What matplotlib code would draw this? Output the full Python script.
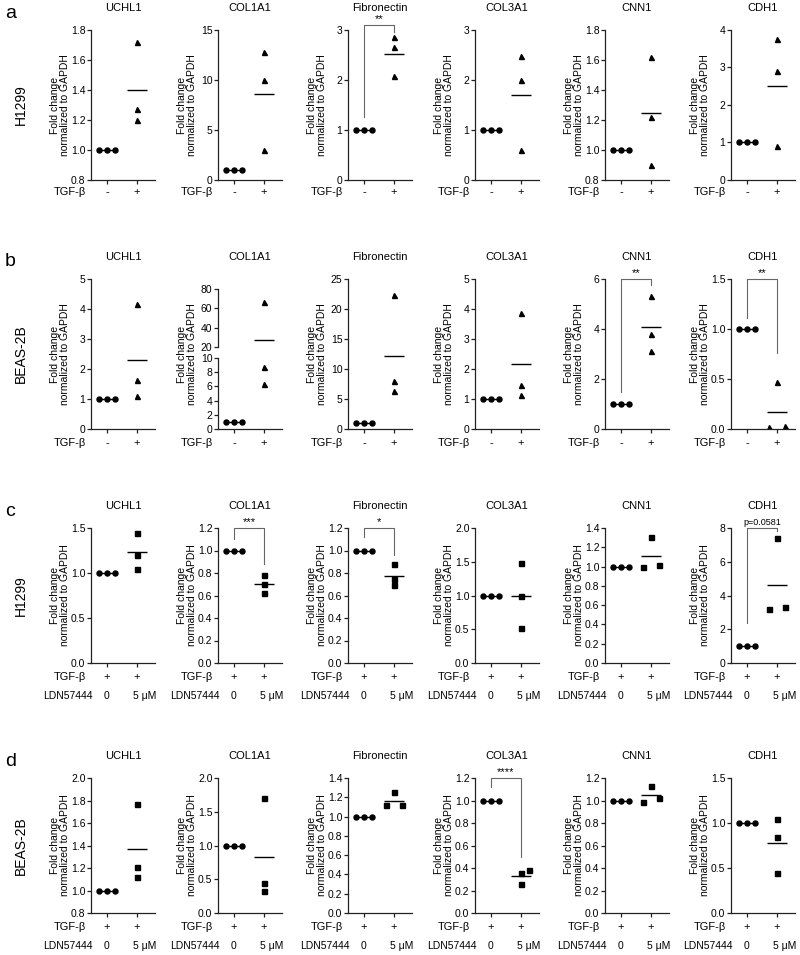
import numpy as np
import matplotlib
matplotlib.use("Agg")
import matplotlib.pyplot as plt

plt.rcParams['font.family'] = ['Liberation Sans', 'DejaVu Sans']

genes = ["UCHL1", "COL1A1", "Fibronectin", "COL3A1", "CNN1", "CDH1"]
ctrl = [1.0, 1.0, 1.0]

# row a: H1299, TGF-beta - / +
a_trt = [[1.72, 1.27, 1.20], [12.8, 10.0, 3.0], [2.85, 2.65, 2.08],
         [2.48, 2.00, 0.60], [1.62, 1.22, 0.90], [3.75, 2.90, 0.90]]
a_ylim = [(0.8, 1.8), (0, 15), (0, 3), (0, 3), (0.8, 1.8), (0, 4)]
a_ticks = [[0.8, 1.0, 1.2, 1.4, 1.6, 1.8], [0, 5, 10, 15], [0, 1, 2, 3],
           [0, 1, 2, 3], [0.8, 1.0, 1.2, 1.4, 1.6, 1.8], [0, 1, 2, 3, 4]]
a_dec = [1, 0, 0, 0, 1, 0]
a_jit = [[0, 0, 0]] * 6

# row b: BEAS-2B, TGF-beta - / +
b_trt = [[4.15, 1.62, 1.10], [67.0, 8.7, 6.4], [22.3, 8.0, 6.4],
         [3.85, 1.45, 1.15], [5.3, 3.8, 3.1], [0.47, 0.02, 0.03]]
b_ylim = [(0, 5), (0, 10), (0, 25), (0, 5), (0, 6), (0, 1.5)]
b_ticks = [[0, 1, 2, 3, 4, 5], [0, 2, 4, 6, 8, 10], [0, 5, 10, 15, 20, 25],
           [0, 1, 2, 3, 4, 5], [0, 2, 4, 6], [0.0, 0.5, 1.0, 1.5]]
b_dec = [0, 0, 0, 0, 0, 1]
b_jit = [[0, 0, 0]] * 5 + [[0, -1, 1]]
b_col1a1_upper_ylim = (20, 80)
b_col1a1_upper_ticks = [20, 40, 60, 80]

# row c: H1299, TGF-beta + with LDN57444 0 / 5 uM
c_trt = [[1.45, 1.20, 1.05], [0.78, 0.70, 0.62], [0.88, 0.75, 0.69],
         [1.48, 1.00, 0.52], [1.00, 1.31, 1.02], [3.20, 7.40, 3.30]]
c_ylim = [(0, 1.5), (0, 1.2), (0, 1.2), (0, 2.0), (0, 1.4), (0, 8)]
c_ticks = [[0, 0.5, 1.0, 1.5], [0, 0.2, 0.4, 0.6, 0.8, 1.0, 1.2],
           [0, 0.2, 0.4, 0.6, 0.8, 1.0, 1.2], [0, 0.5, 1.0, 1.5, 2.0],
           [0, 0.2, 0.4, 0.6, 0.8, 1.0, 1.2, 1.4], [0, 2, 4, 6, 8]]
c_dec = [1, 1, 1, 1, 1, 0]
c_jit = [[0, 0, 0]] * 4 + [[-1, 0, 1], [-1, 0, 1]]

# row d: BEAS-2B, TGF-beta + with LDN57444 0 / 5 uM
d_trt = [[1.77, 1.21, 1.12], [1.71, 0.45, 0.32], [1.12, 1.25, 1.12],
         [0.36, 0.38, 0.26], [0.99, 1.13, 1.02], [1.05, 0.85, 0.45]]
d_ylim = [(0.8, 2.0), (0, 2.0), (0, 1.4), (0, 1.2), (0, 1.2), (0, 1.5)]
d_ticks = [[0.8, 1.0, 1.2, 1.4, 1.6, 1.8, 2.0], [0, 0.5, 1.0, 1.5, 2.0],
           [0, 0.2, 0.4, 0.6, 0.8, 1.0, 1.2, 1.4], [0, 0.2, 0.4, 0.6, 0.8, 1.0, 1.2],
           [0, 0.2, 0.4, 0.6, 0.8, 1.0, 1.2], [0, 0.5, 1.0, 1.5]]
d_dec = [1, 1, 1, 1, 1, 1]
d_jit = [[0, 0, 0], [0, 0, 0], [-1, 0, 1], [0, 1, 0], [-1, 0, 1], [0, 0, 0]]

# significance: (row, col, label, left leg bottom, right leg bottom, top)
sig = [(0, 2, "**", 1.26, 2.95, 3.1),
       (1, 4, "**", 1.5, 5.75, 6.0),
       (1, 5, "**", 1.11, 0.76, 1.5),
       (2, 1, "***", 1.10, 0.88, 1.2),
       (2, 2, "*", 1.12, 0.96, 1.2),
       (2, 5, "p=0.0581", 2.4, 7.8, 8.0),
       (3, 3, "****", 1.12, 0.50, 1.2)]

cells = ["H1299", "BEAS-2B", "H1299", "BEAS-2B"]
letters = ["a", "b", "c", "d"]

W, H = 800, 955
fig = plt.figure(figsize=(W / 100, H / 100), dpi=100)
col_left = [91, 218, 348, 475, 605, 731]
ax_w = 64
row_top = [30, 279, 528, 778]
row_h = [150, 150, 135, 135]
XLIM = (-0.53, 1.6)
SP = 0.27
PX = 0.72  # points per pixel


def add_ax(x0, y0, w, h):
    return fig.add_axes([x0 / W, 1 - (y0 + h) / H, w / W, h / H])


def style(ax, ylim, ticks, dec, bottom=True):
    for s in ["top", "right"]:
        ax.spines[s].set_visible(False)
    for s in ["left", "bottom"]:
        ax.spines[s].set_linewidth(0.9)
        ax.spines[s].set_color("#222222")
    ax.set_xlim(XLIM)
    ax.set_ylim(ylim)
    ax.set_yticks(ticks)
    ax.set_yticklabels([f"{t:.{dec}f}" for t in ticks])
    ax.tick_params(axis="y", direction="out", length=3, width=0.9,
                   labelsize=7.5, pad=1, colors="#222222")
    ax.tick_params(axis="y", labelcolor="black")
    if bottom:
        ax.set_xticks([0, 1])
        ax.set_xticklabels(["", ""])
        ax.tick_params(axis="x", direction="out", length=3, width=0.9,
                       colors="#222222")
    else:
        ax.spines["bottom"].set_visible(False)
        ax.set_xticks([])
    ax.patch.set_alpha(0)


def draw(ax, trt, jit, marker):
    ax.plot([-SP, 0, SP], ctrl, "o", ms=3.6, color="black")
    ax.hlines(np.mean(ctrl), -SP, SP, color="black", lw=1.0)
    xs = [1 + j * SP for j in jit]
    ax.plot(xs, trt, marker, ms=3.6, color="black")
    ax.hlines(np.mean(trt), 1 - 0.34, 1 + 0.34, color="black", lw=1.0)


def xlabels(ax, row):
    if row < 2:
        labs = ["-", "+"]
        off1 = -12 if row == 0 else -14
    else:
        labs = ["+", "+"]
        off1 = -14
    for x, t in zip([0, 1], labs):
        ax.annotate(t, xy=(x, 0), xycoords=("data", "axes fraction"),
                    xytext=(0, off1 * PX), textcoords="offset points",
                    ha="center", va="center", fontsize=8)
    ax.annotate("TGF-β", xy=(0, 0), xycoords="axes fraction",
                xytext=(-5 * PX, off1 * PX), textcoords="offset points",
                ha="right", va="center", fontsize=8)
    if row >= 2:
        off2 = -33
        ax.annotate("0", xy=(0, 0), xycoords=("data", "axes fraction"),
                    xytext=(0, off2 * PX), textcoords="offset points",
                    ha="center", va="center", fontsize=7.5)
        ax.annotate("5 μM", xy=(1, 0), xycoords=("data", "axes fraction"),
                    xytext=(8 * PX, off2 * PX), textcoords="offset points",
                    ha="center", va="center", fontsize=7.5)
        ax.annotate("LDN57444", xy=(0, 0), xycoords="axes fraction",
                    xytext=(2 * PX, off2 * PX), textcoords="offset points",
                    ha="right", va="center", fontsize=7.5)


rows = [(a_trt, a_ylim, a_ticks, a_dec, a_jit, "^"),
        (b_trt, b_ylim, b_ticks, b_dec, b_jit, "^"),
        (c_trt, c_ylim, c_ticks, c_dec, c_jit, "s"),
        (d_trt, d_ylim, d_ticks, d_dec, d_jit, "s")]

axes = {}
for r, (trt, ylim, ticks, dec, jit, mk) in enumerate(rows):
    for c in range(6):
        top, h = row_top[r], row_h[r]
        if r == 1 and c == 1:
            # broken y axis
            ax_up = add_ax(col_left[c], 289, ax_w, 58)
            style(ax_up, b_col1a1_upper_ylim, b_col1a1_upper_ticks, 0, bottom=False)
            draw(ax_up, trt[c], jit[c], mk)
            ax = add_ax(col_left[c], 358, ax_w, 71)
            style(ax, ylim[c], ticks[c], dec[c])
            draw(ax, trt[c], jit[c], mk)
        else:
            ax = add_ax(col_left[c], top, ax_w, h)
            style(ax, ylim[c], ticks[c], dec[c])
            draw(ax, trt[c], jit[c], mk)
        axes[(r, c)] = ax
        xlabels(ax, r)
        fig.text((col_left[c] + ax_w / 2) / W, 1 - (top - 22) / H, genes[c],
                 ha="center", va="center", fontsize=8)
        fig.text((col_left[c] - 31) / W, 1 - (top + h / 2) / H,
                 "Fold change\nnormalized to GAPDH", rotation=90,
                 ha="center", va="center", fontsize=7.5, linespacing=1.0)
    fig.text(5 / W, 1 - (top - 17) / H, letters[r], fontsize=14,
             ha="left", va="center")
    fig.text(21 / W, 1 - (top + h / 2) / H, cells[r], rotation=90,
             fontsize=10, ha="center", va="center")

for r, c, lab, yl, yr, yt in sig:
    ax = axes[(r, c)]
    ax.plot([0, 0, 1, 1], [yl, yt, yt, yr], color="#666666", lw=0.8,
            clip_on=False)
    ax.annotate(lab, xy=(0.5, yt), xycoords="data", xytext=(0, 0.5),
                textcoords="offset points", ha="center", va="bottom",
                fontsize=6.5 if lab.startswith("p") else 8,
                annotation_clip=False)

fig.savefig("out.png", dpi=100, facecolor="white")
